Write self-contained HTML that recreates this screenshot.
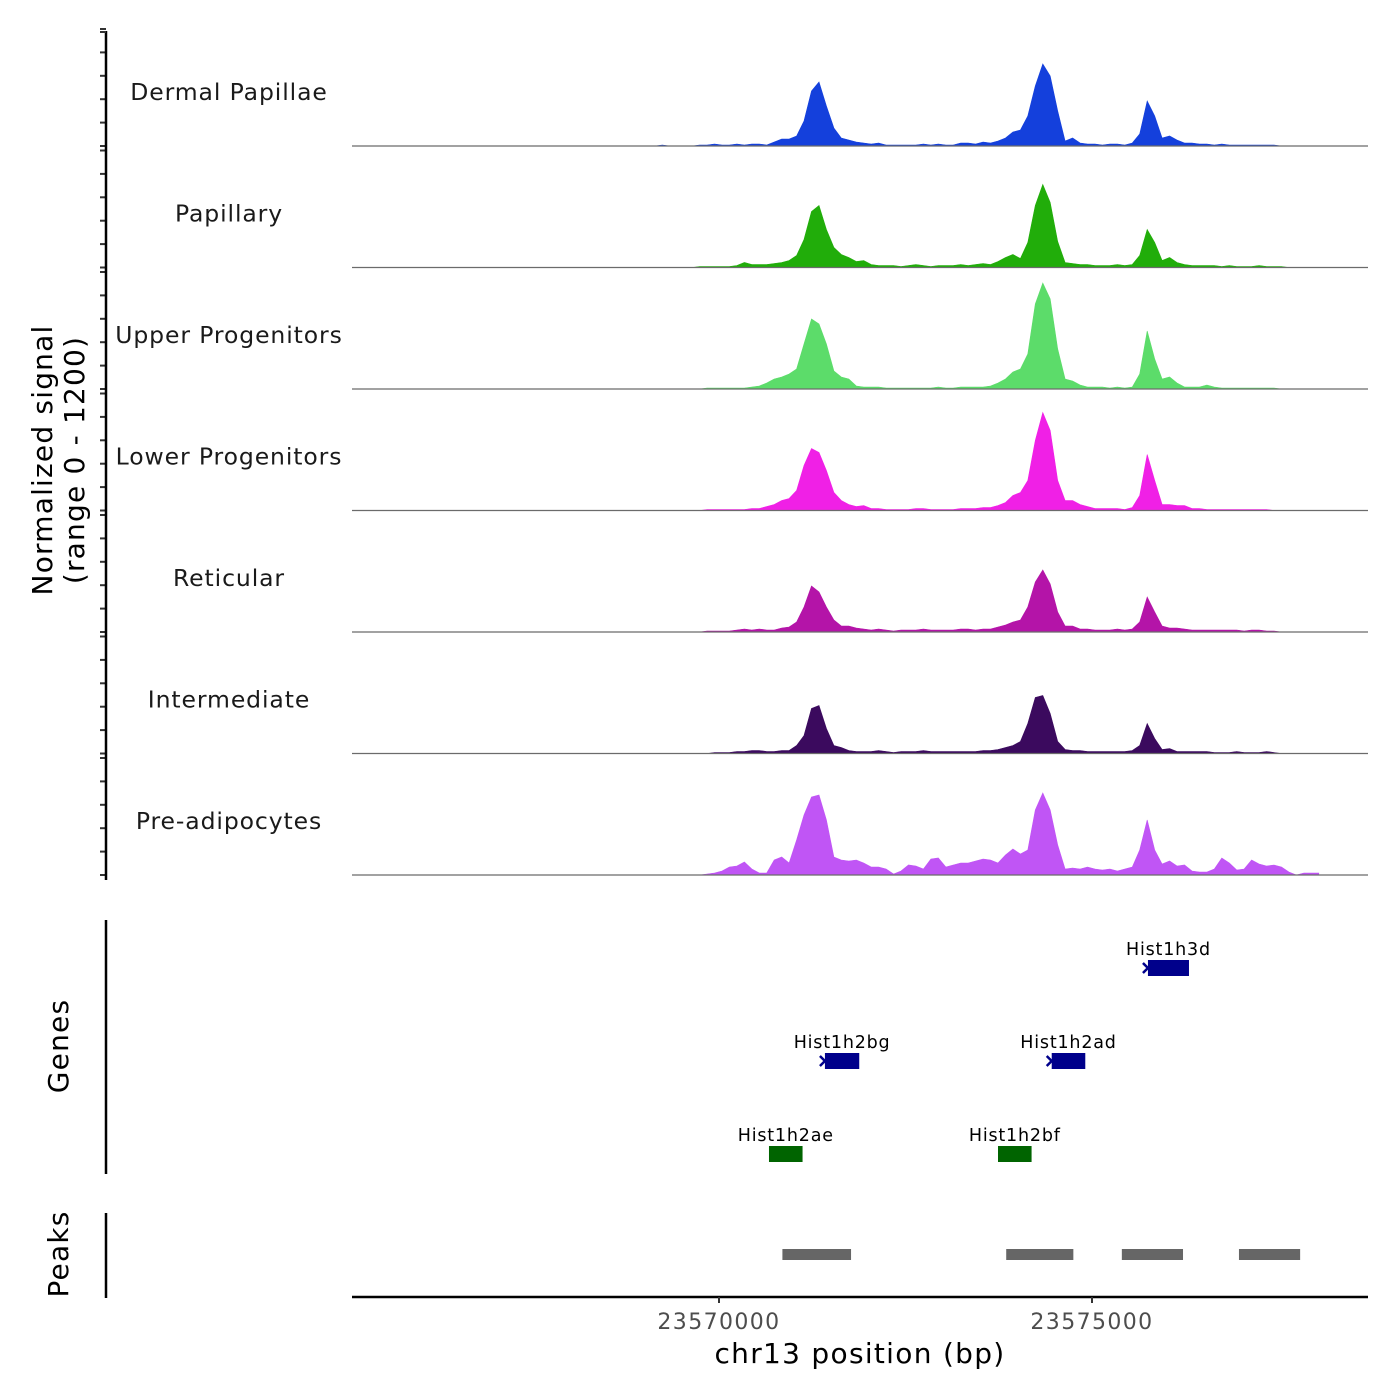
<!DOCTYPE html>
<html><head><meta charset="utf-8"><style>
html,body{margin:0;padding:0;background:#fff;}
svg{display:block;font-family:"DejaVu Sans","Liberation Sans",sans-serif;}
</style></head><body>
<svg id="chart" width="1400" height="1400" viewBox="0 0 1400 1400">
<g id="tracks"></g>
<g id="yaxis"></g>
<text x="52" y="460" transform="rotate(-90 52 460)" text-anchor="middle" font-size="28" letter-spacing="1.2" fill="#000">Normalized signal</text>
<text x="84" y="460" transform="rotate(-90 84 460)" text-anchor="middle" font-size="28" letter-spacing="1.2" fill="#000">(range 0 - 1200)</text>
<line x1="106" y1="920" x2="106" y2="1174" stroke="#000" stroke-width="2.5"/>
<text x="68" y="1046" transform="rotate(-90 68 1046)" text-anchor="middle" font-size="28" letter-spacing="1.2">Genes</text>
<g id="genes"></g>
<line x1="106" y1="1213" x2="106" y2="1298" stroke="#000" stroke-width="2.5"/>
<text x="68" y="1254" transform="rotate(-90 68 1254)" text-anchor="middle" font-size="28" letter-spacing="1.2">Peaks</text>
<g id="peaks"></g>
<line x1="352" y1="1297" x2="1368" y2="1297" stroke="#000" stroke-width="2.5"/>
<g id="xaxis"></g>
<text x="860" y="1363" text-anchor="middle" font-size="28" letter-spacing="1.3">chr13 position (bp)</text>
</svg>
<script>
const binStart = 23568440;
const binSize = 100;
const trackNames = ["Dermal Papillae","Papillary","Upper Progenitors","Lower Progenitors","Reticular","Intermediate","Pre-adipocytes"];
const trackColors = ["#1440dc","#21ad0a","#5cdc6a","#f020e6","#b414a8","#3b0a5e","#c055f5"];
const sigDermal = [0,0,0,0,0,0,0,0,10,0,0,0,0,10,10,20,10,10,20,10,20,20,10,40,70,70,100,250,550,640,400,180,80,60,40,30,20,30,10,10,10,10,10,20,10,20,10,10,30,30,20,40,30,50,80,140,160,300,600,820,700,350,50,80,30,20,20,10,20,20,10,30,120,450,300,80,100,60,30,30,20,20,10,20,10,10,10,10,10,10,10,0,0,0,0,0,0];
const sigPapillary = [0,0,0,0,0,0,0,0,0,0,0,0,0,10,10,10,10,10,20,50,30,30,30,40,50,70,120,280,560,620,380,200,130,100,60,70,30,20,20,20,10,20,30,20,10,20,20,20,30,20,30,40,30,60,100,130,90,250,620,830,650,260,50,40,30,30,20,20,20,30,20,30,120,380,250,70,100,50,30,20,20,20,20,10,20,10,10,10,20,10,10,10,0,0,0,0,0];
const sigUpper = [0,0,0,0,0,0,0,0,0,0,0,0,0,0,10,10,10,10,10,10,20,30,60,100,120,150,200,450,700,650,450,180,120,100,30,20,20,20,10,10,10,10,10,10,10,20,10,10,20,20,20,20,30,60,100,170,200,350,850,1060,900,400,100,80,40,20,20,20,10,20,10,20,150,580,300,100,120,60,20,20,20,40,20,10,10,10,10,10,10,10,10,0,0,0,0,0,0];
const sigLower = [0,0,0,0,0,0,0,0,0,0,0,0,0,0,10,10,10,10,10,10,20,20,40,60,100,120,200,450,620,580,400,180,100,60,40,50,20,20,10,10,10,10,20,20,10,10,10,10,20,20,20,30,30,50,80,150,180,300,700,980,800,300,100,100,60,40,20,20,20,20,10,30,150,560,300,60,60,50,50,20,20,10,10,10,10,10,10,10,10,10,0,0,0,0,0,0,0];
const sigReticular = [0,0,0,0,0,0,0,0,0,0,0,0,0,0,10,10,10,10,20,30,20,30,20,20,40,50,100,250,460,400,250,120,60,60,40,30,20,30,20,10,20,20,20,30,20,20,20,20,30,30,20,30,30,50,70,100,120,250,500,620,480,200,60,60,30,30,20,20,20,30,20,30,100,350,200,60,40,40,30,20,20,20,20,20,20,20,10,20,20,10,10,0,0,0,0,0,0];
const sigIntermediate = [0,0,0,0,0,0,0,0,0,0,0,0,0,0,0,10,10,10,20,20,30,30,20,20,30,30,80,180,450,480,250,80,60,30,20,20,20,30,20,10,20,20,20,30,20,20,20,20,20,20,20,30,30,40,60,80,120,300,560,580,400,120,40,30,30,20,20,20,20,20,20,30,80,300,150,40,50,20,20,20,20,20,10,10,10,20,10,10,10,20,10,0,0,0,0,0,0];
const sigPreadipo = [0,0,0,0,0,0,0,0,0,0,0,0,0,0,10,20,40,80,90,130,60,20,20,150,180,120,350,600,780,800,550,180,150,140,150,120,80,80,60,10,40,100,90,60,160,170,80,100,120,120,140,160,150,120,200,260,210,250,650,820,650,300,60,70,60,80,60,50,60,40,60,80,250,550,250,110,140,90,100,40,30,30,60,170,120,50,60,150,110,90,100,80,30,0,20,20,20];
const trackSignals = [sigDermal,sigPapillary,sigUpper,sigLower,sigReticular,sigIntermediate,sigPreadipo];
const xTickValues = [23570000,23575000];
const xTickLabels = ["23570000","23575000"];
const geneNames = ["Hist1h3d","Hist1h2bg","Hist1h2ad","Hist1h2ae","Hist1h2bf"];
const geneStarts = [23575750,23571420,23574460,23570670,23573740];
const geneEnds = [23576300,23571880,23574910,23571120,23574190];
const geneRows = [0,1,1,2,2];
const geneStrands = ["+","+","+","-","-"];
const peakStarts = [23570850,23573850,23575400,23576970];
const peakEnds = [23571770,23574750,23576220,23577790];

const NS="http://www.w3.org/2000/svg";
const X0=352,X1=1368;
const xScale = bp => 719 + (bp-23570000)*0.0746;
const yScale = v => v/1200*120;
const base0=146, step=121.5;
function mk(tag,attrs,parent){const e=document.createElementNS(NS,tag);for(const k in attrs)e.setAttribute(k,attrs[k]);parent.appendChild(e);return e;}
const tracks=document.getElementById('tracks');
const yaxis=document.getElementById('yaxis');
trackSignals.forEach((sig,t)=>{
  const b=base0+step*t;
  let d=`M${X0},${b} L${xScale(binStart).toFixed(1)},${b} `;
  sig.forEach((v,i)=>{d+=`L${xScale(binStart+i*binSize).toFixed(1)},${(b-yScale(v)).toFixed(1)} `;});
  d+=`L${xScale(binStart+(sig.length-1)*binSize).toFixed(1)},${b} Z`;
  const p=mk('path',{d:d,fill:trackColors[t],stroke:trackColors[t],'stroke-width':0.6},tracks);
  
  
  const bl=mk('line',{x1:X0,x2:X1,y1:b,y2:b,stroke:'#6b6b6b','stroke-width':1.2},tracks);
  
  
  const lb=mk('text',{x:229,y:b-46,'text-anchor':'middle','font-size':23.5,'letter-spacing':0.9,fill:'#1a1a1a'},tracks);
  lb.textContent=trackNames[t];
  
  
  for(let k=0;k<6;k++){
    const ty=b-23.4*k;
    const tk=mk('line',{x1:100,x2:106,y1:ty,y2:ty,stroke:'#333','stroke-width':2},yaxis);
    
    
  }
});
const ax=mk('line',{x1:106,x2:106,y1:31,y2:880,stroke:'#000','stroke-width':2.5},yaxis);


const tt=mk('line',{x1:100,x2:106,y1:32,y2:32,stroke:'#333','stroke-width':2},yaxis);



const genes=document.getElementById('genes');
const rowY=[968,1061,1154];
geneNames.forEach((n,i)=>{
  const y=rowY[geneRows[i]];
  const x1=xScale(geneStarts[i]),x2=xScale(geneEnds[i]);
  const col=geneStrands[i]==='+'?'#00008b':'#006400';
  const r=mk('rect',{x:x1,y:y-8,width:x2-x1,height:16,fill:col},genes);
  
  
  if(geneStrands[i]==='+'){
    const a=mk('path',{d:`M${x1-5},${y-5} L${x1},${y} L${x1-5},${y+5}`,stroke:col,'stroke-width':2.5,fill:'none'},genes);
    
    
  }
  const tx=mk('text',{x:(x1+x2)/2,y:y-13,'text-anchor':'middle','font-size':17.5,'letter-spacing':0.8,fill:'#000'},genes);
  tx.textContent=n;
  
  
});
const peaks=document.getElementById('peaks');
peakStarts.forEach((s,i)=>{
  const r=mk('rect',{x:xScale(s),y:1249,width:xScale(peakEnds[i])-xScale(s),height:11,fill:'#666'},peaks);
  
  
});
const xaxis=document.getElementById('xaxis');
xTickValues.forEach((v,i)=>{
  const x=xScale(v);
  const t=mk('line',{x1:x,x2:x,y1:1297,y2:1303,stroke:'#333','stroke-width':2},xaxis);
  
  
  const l=mk('text',{x:x,y:1329,'text-anchor':'middle','font-size':22,'letter-spacing':1.4,fill:'#4d4d4d'},xaxis);
  l.textContent=xTickLabels[i];
  
  
});
</script>
</body></html>
